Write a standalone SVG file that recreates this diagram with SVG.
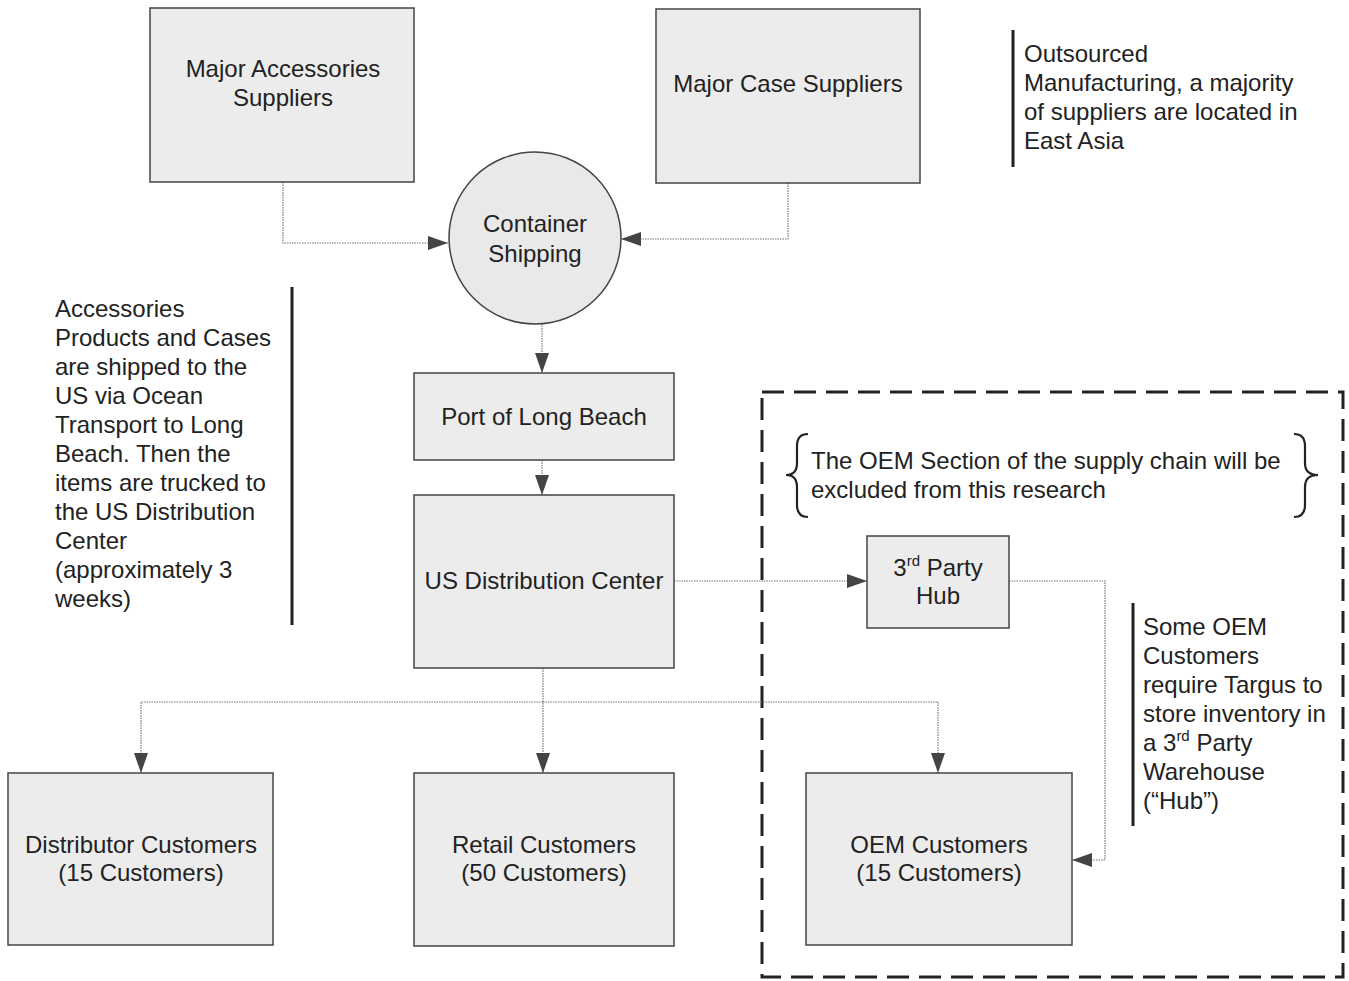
<svg xmlns="http://www.w3.org/2000/svg" width="1349" height="981" viewBox="0 0 1349 981">
<style>
text{font-family:"Liberation Sans",Arial,sans-serif;font-size:24px;fill:#222}
.c{text-anchor:middle}
.box{fill:#ececec;stroke:#444;stroke-width:1.5}
.conn{fill:none;stroke:#777;stroke-width:1.2;stroke-dasharray:1.5 1}
.bar{stroke:#222;stroke-width:3}
.brace{fill:none;stroke:#222;stroke-width:2.2}
</style>
<defs>
<marker id="ah" viewBox="0 0 20 14" refX="20" refY="7" markerWidth="20" markerHeight="14" markerUnits="userSpaceOnUse" orient="auto">
<path d="M0,0 L20,7 L0,14 Z" fill="#444"/>
</marker>
</defs>
<rect width="1349" height="981" fill="#fff"/>
<g id="oem-region">
<rect x="762" y="392" width="581" height="585" fill="none" stroke="#222" stroke-width="3" stroke-dasharray="22 10"/>
</g>
<g id="connectors">
<path class="conn" d="M283,182 V243 H448" marker-end="url(#ah)"/>
<path class="conn" d="M788,183 V239 H621" marker-end="url(#ah)"/>
<path class="conn" d="M542,323 V373" marker-end="url(#ah)"/>
<path class="conn" d="M542,460 V495" marker-end="url(#ah)"/>
<path class="conn" d="M674,581 H867" marker-end="url(#ah)"/>
<path class="conn" d="M1009,581 H1105 V860 H1072" marker-end="url(#ah)"/>
<path class="conn" d="M543,668 V773" marker-end="url(#ah)"/>
<path class="conn" d="M543,702 H141 V773" marker-end="url(#ah)"/>
<path class="conn" d="M543,702 H938 V773" marker-end="url(#ah)"/>
</g>
<g id="accessories">
<rect class="box" x="150" y="8" width="264" height="174"/>
<text class="c" x="283" y="77">Major Accessories</text>
<text class="c" x="283" y="106">Suppliers</text>
</g>
<g id="case">
<rect class="box" x="656" y="9" width="264" height="174"/>
<text class="c" x="788" y="92">Major Case Suppliers</text>
</g>
<g id="shipping">
<circle cx="535" cy="238" r="86" fill="#e9e9e9" stroke="#444" stroke-width="1.5"/>
<text class="c" x="535" y="232">Container</text>
<text class="c" x="535" y="262">Shipping</text>
</g>
<g id="port">
<rect class="box" x="414" y="373" width="260" height="87"/>
<text class="c" x="544" y="425">Port of Long Beach</text>
</g>
<g id="usdc">
<rect class="box" x="414" y="495" width="260" height="173"/>
<text class="c" x="544" y="589">US Distribution Center</text>
</g>
<g id="hub">
<rect class="box" x="867" y="536" width="142" height="92"/>
<text class="c" x="938" y="576">3<tspan font-size="15" dy="-10">rd</tspan><tspan dy="10"> Party</tspan></text>
<text class="c" x="938" y="604">Hub</text>
</g>
<g id="distributor">
<rect class="box" x="8" y="773" width="265" height="172"/>
<text class="c" x="141" y="853">Distributor Customers</text>
<text class="c" x="141" y="881">(15 Customers)</text>
</g>
<g id="retail">
<rect class="box" x="414" y="773" width="260" height="173"/>
<text class="c" x="544" y="853">Retail Customers</text>
<text class="c" x="544" y="881">(50 Customers)</text>
</g>
<g id="oem">
<rect class="box" x="806" y="773" width="266" height="172"/>
<text class="c" x="939" y="853">OEM Customers</text>
<text class="c" x="939" y="881">(15 Customers)</text>
</g>
<g id="note-outsourced">
<line class="bar" x1="1013" y1="30" x2="1013" y2="167"/>
<text x="1024" y="62">Outsourced</text>
<text x="1024" y="91">Manufacturing, a majority</text>
<text x="1024" y="120">of suppliers are located in</text>
<text x="1024" y="149">East Asia</text>
</g>
<g id="note-shipping">
<line class="bar" x1="292" y1="287" x2="292" y2="625"/>
<text x="55" y="317">Accessories</text>
<text x="55" y="346">Products and Cases</text>
<text x="55" y="375">are shipped to the</text>
<text x="55" y="404">US via Ocean</text>
<text x="55" y="433">Transport to Long</text>
<text x="55" y="462">Beach. Then the</text>
<text x="55" y="491">items are trucked to</text>
<text x="55" y="520">the US Distribution</text>
<text x="55" y="549">Center</text>
<text x="55" y="578">(approximately 3</text>
<text x="55" y="607">weeks)</text>
</g>
<g id="note-hub">
<line class="bar" x1="1133" y1="603" x2="1133" y2="826"/>
<text x="1143" y="635">Some OEM</text>
<text x="1143" y="664">Customers</text>
<text x="1143" y="693">require Targus to</text>
<text x="1143" y="722">store inventory in</text>
<text x="1143" y="751">a 3<tspan font-size="15" dy="-10">rd</tspan><tspan dy="10"> Party</tspan></text>
<text x="1143" y="780">Warehouse</text>
<text x="1143" y="809">(“Hub”)</text>
</g>
<g id="note-excluded">
<path class="brace" d="M808,434 Q797,434 797,446 V463 Q797,475 786,475 Q797,475 797,487 V505 Q797,517 808,517"/>
<path class="brace" d="M1294,434 Q1305,434 1305,446 V463 Q1305,475 1318,475 Q1305,475 1305,487 V505 Q1305,517 1294,517"/>
<text x="811" y="469">The OEM Section of the supply chain will be</text>
<text x="811" y="498">excluded from this research</text>
</g>
</svg>
